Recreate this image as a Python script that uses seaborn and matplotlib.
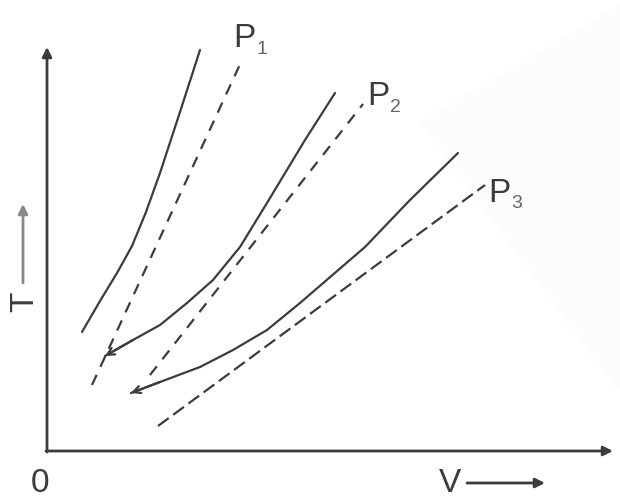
import matplotlib
matplotlib.use("Agg")
import matplotlib.pyplot as plt
import seaborn as sns
from matplotlib.patches import Polygon

# curve samples (V, T in image units, T grows downward)
p1_solid_v = [82, 100, 117, 132, 146, 160, 180, 200]
p1_solid_t = [332, 301, 273, 246, 212, 173, 112, 50]
p1_dash_v = [92, 242]
p1_dash_t = [385, 60]

p2_solid_v = [105, 133, 160, 187, 213, 240, 270, 305, 335]
p2_solid_t = [356, 340, 325, 303, 280, 247, 198, 140, 93]
p2_dash_v = [150, 363]
p2_dash_t = [375, 104]

p3_solid_v = [131, 160, 200, 233, 267, 300, 365, 410, 458]
p3_solid_t = [393, 382, 367, 350, 330, 303, 247, 200, 153]
p3_dash_v = [158, 485]
p3_dash_t = [426, 185]

labels = ["P", "P", "P"]
subs = ["1", "2", "3"]

ink = "#3c3c3c"
sns.set_style("white")
plt.rcParams["font.family"] = ["Liberation Sans", "DejaVu Sans"]

fig = plt.figure(figsize=(6.2, 5.01), dpi=100)
ax = fig.add_axes([0, 0, 1, 1])
ax.set_xlim(0, 620)
ax.set_ylim(501, 0)
ax.axis("off")

# faint watermark in the background
ax.add_patch(Polygon([(420, 122), (620, 5), (620, 393)], closed=True,
                     facecolor="#fcfcfc", edgecolor="none", zorder=0))

# solid curves
for v, t in [(p1_solid_v, p1_solid_t), (p2_solid_v, p2_solid_t), (p3_solid_v, p3_solid_t)]:
    sns.lineplot(x=v, y=t, sort=False, color=ink, lw=1.6, ax=ax)

# arrowheads on P2 and P3 curves (lower ends)
for v, t in [(p2_solid_v, p2_solid_t), (p3_solid_v, p3_solid_t)]:
    ax.annotate("", xy=(v[0], t[0]), xytext=(v[1], t[1]),
                arrowprops=dict(arrowstyle="->", color=ink, lw=1.6,
                                mutation_scale=13, shrinkA=0, shrinkB=0))

# dashed lines
sns.lineplot(x=p1_dash_v, y=p1_dash_t, sort=False, color=ink, lw=1.6,
             linestyle=(0, (5, 4)), ax=ax)
sns.lineplot(x=p2_dash_v, y=p2_dash_t, sort=False, color=ink, lw=1.6,
             linestyle=(0, (5, 4)), ax=ax)
sns.lineplot(x=p3_dash_v, y=p3_dash_t, sort=False, color=ink, lw=1.6,
             linestyle=(0, (6, 2.5)), ax=ax)

# axes with arrows
ax.annotate("", xy=(613, 451), xytext=(46, 451),
            arrowprops=dict(arrowstyle="-|>", color=ink, lw=2,
                            mutation_scale=14, shrinkA=0, shrinkB=0))
ax.annotate("", xy=(47, 47), xytext=(47, 452),
            arrowprops=dict(arrowstyle="-|>", color=ink, lw=2,
                            mutation_scale=14, shrinkA=0, shrinkB=0))

# labels
fs = 24
pos = [(233, 38), (367, 96), (488, 193)]
for (x, y), lab, s in zip(pos, labels, subs):
    ax.text(x, y, lab, fontsize=fs, color=ink, ha="left", va="center")
    ax.text(x + 23, y + 11, s, fontsize=14, color="#666666", ha="left", va="center")

ax.text(40, 484, "0", fontsize=fs, color=ink, ha="center", va="center")
ax.text(450, 483, "V", fontsize=fs, color=ink, ha="center", va="center")
ax.annotate("", xy=(545, 483), xytext=(467, 483),
            arrowprops=dict(arrowstyle="-|>", color=ink, lw=2,
                            mutation_scale=14, shrinkA=0, shrinkB=0))
ax.text(25, 302, "T", fontsize=fs, color=ink, ha="center", va="center", rotation=90)
ax.annotate("", xy=(23, 204), xytext=(23, 283),
            arrowprops=dict(arrowstyle="-|>", color="#888888", lw=2,
                            mutation_scale=14, shrinkA=0, shrinkB=0))

fig.savefig("out.png", dpi=100)
